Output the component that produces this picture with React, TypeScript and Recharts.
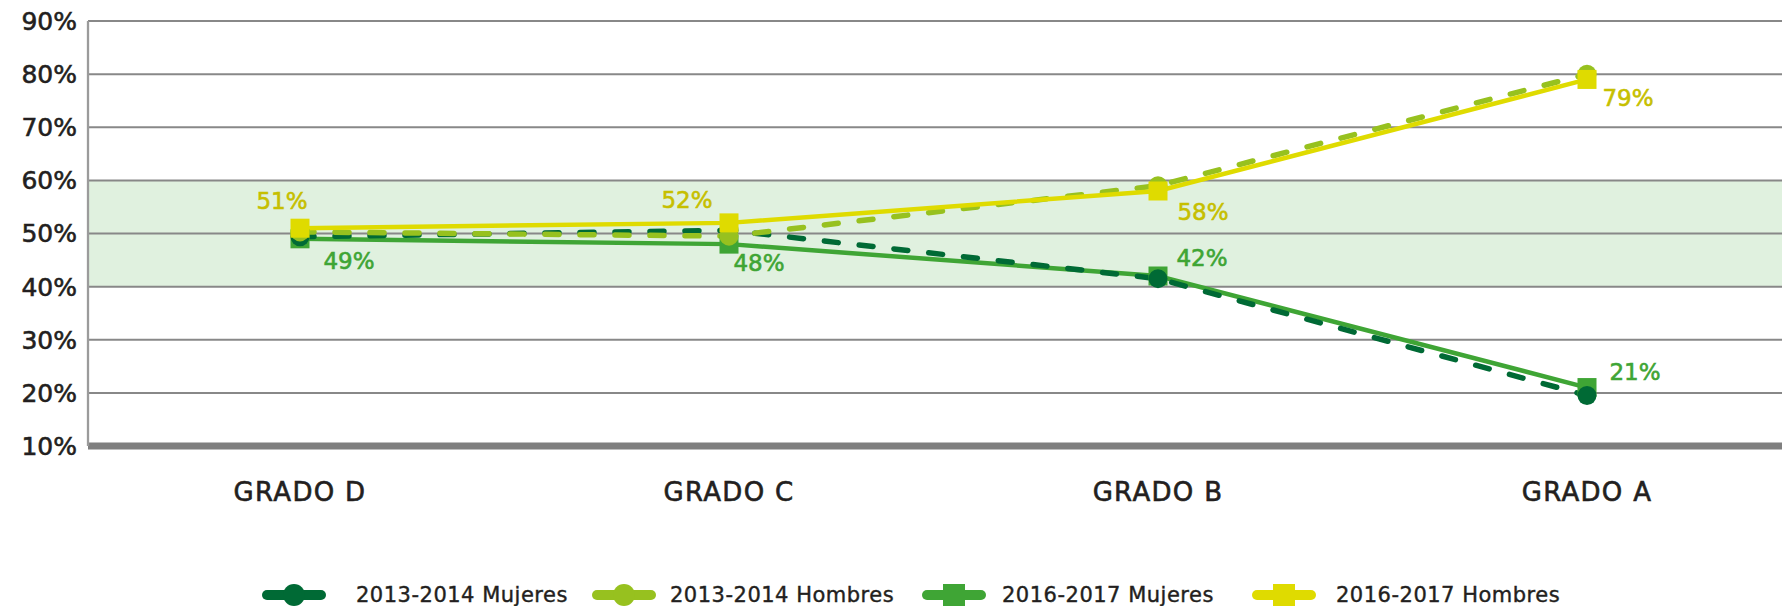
import React from 'react';
import {
  LineChart,
  Line,
  XAxis,
  YAxis,
  CartesianGrid,
  Legend,
  LabelList,
} from 'recharts';

const categories = ['GRADO D', 'GRADO C', 'GRADO B', 'GRADO A'];
const mujeres1314 = [49.4, 50.6, 41.5, 19.5];
const hombres1314 = [50.3, 49.5, 59, 80];
const mujeres1617 = [49, 48, 42, 21];
const hombres1617 = [51, 52, 58, 79];
const yTicks = [10, 20, 30, 40, 50, 60, 70, 80, 90];

// label placement around each point (dx, dy)
const hombresLabelOffsets = [[-18, -27], [-42, -23], [45, 21], [41, 19]];
const mujeresLabelOffsets = [[49, 22], [30, 19], [44, -18], [48, -16]];
// gap between legend icon and its text
const legendTextGaps = [30, 14, 16, 20];

const FONT = '"DejaVu Sans", sans-serif';
const TEXT = '#231f20';

const series = [
  { key: 'm1314', name: '2013-2014 Mujeres', color: '#006a35', shape: 'circle' },
  { key: 'h1314', name: '2013-2014 Hombres', color: '#97c11f', shape: 'circle' },
  { key: 'm1617', name: '2016-2017 Mujeres', color: '#3fa535', shape: 'square' },
  { key: 'h1617', name: '2016-2017 Hombres', color: '#dfdb00', shape: 'square' },
];

const data = categories.map((name, i) => ({
  name,
  m1314: mujeres1314[i],
  h1314: hombres1314[i],
  m1617: mujeres1617[i],
  h1617: hombres1617[i],
}));

const SquareDot = (color: string) => (props: any) => {
  const { cx, cy, index } = props;
  if (cx == null || cy == null) return null;
  return <rect key={`sq-${index}`} x={cx - 9.5} y={cy - 9.5} width={19} height={19} fill={color} />;
};

const CircleDot = (color: string) => (props: any) => {
  const { cx, cy, index } = props;
  if (cx == null || cy == null) return null;
  return <circle key={`ci-${index}`} cx={cx} cy={cy} r={9.5} fill={color} />;
};

const renderLabel = (offsets: number[][], color: string) => (props: any) => {
  const { x, y, index, value } = props;
  const [dx, dy] = offsets[index];
  return (
    <text
      x={x + dx}
      y={y + dy}
      textAnchor="middle"
      dominantBaseline="central"
      fill={color}
      stroke={color}
      strokeWidth={0.6}
      fontSize={23}
      fontFamily={FONT}
    >
      {value}%
    </text>
  );
};

const LegendContent = () => (
  <div style={{ display: 'flex', height: 22, alignItems: 'center', paddingLeft: 262, width: 1782, boxSizing: 'border-box' }}>
    {series.map((s, i) => (
      <div key={s.key} style={{ display: 'flex', alignItems: 'center', width: 330 }}>
        <svg width={64} height={24} style={{ overflow: 'visible' }}>
          <line x1={5} y1={12} x2={59} y2={12} stroke={s.color} strokeWidth={10} strokeLinecap="round" />
          {s.shape === 'circle' ? (
            <circle cx={32} cy={12} r={11} fill={s.color} />
          ) : (
            <rect x={21} y={1} width={22} height={22} fill={s.color} />
          )}
        </svg>
        <span
          style={{
            marginLeft: legendTextGaps[i],
            fontFamily: FONT,
            fontSize: 21,
            letterSpacing: 0.5,
            color: TEXT,
            whiteSpace: 'nowrap',
            WebkitTextStroke: '0.4px #231f20',
          }}
        >
          {s.name}
        </span>
      </div>
    ))}
  </div>
);

export default function App() {
  return (
    <div style={{ position: 'absolute', left: 0, top: 0 }}>
      <LineChart width={1782} height={606} data={data} margin={{ top: 21, right: 0, bottom: 0, left: 0 }}>
        {/* green band 40-60 drawn first so grid lines sit on top */}
        <CartesianGrid
          vertical={false}
          strokeOpacity={0}
          horizontalFill={['none', 'none', 'none', '#e0f1df', '#e0f1df', 'none', 'none', 'none', 'none']}
          fillOpacity={1}
        />
        <CartesianGrid vertical={false} stroke="#888888" strokeWidth={2} />
        <XAxis
          dataKey="name"
          padding={{ left: 212, right: 195 }}
          height={138}
          tickSize={0}
          tickMargin={37}
          tickLine={false}
          axisLine={{ stroke: '#7f7f7f', strokeWidth: 7 }}
          tick={{ fill: TEXT, stroke: TEXT, strokeWidth: 0.6, fontSize: 26, fontFamily: FONT, letterSpacing: 1.3 }}
        />
        <YAxis
          domain={[10, 90]}
          ticks={yTicks}
          width={88}
          tickSize={0}
          tickMargin={11}
          tickLine={false}
          axisLine={{ stroke: '#9b9b9b', strokeWidth: 2.3 }}
          tickFormatter={(v) => `${v}%`}
          tick={{ fill: TEXT, stroke: TEXT, strokeWidth: 0.6, fontSize: 25, fontFamily: FONT }}
          interval={0}
        />
        <Legend verticalAlign="bottom" align="left" content={<LegendContent />} wrapperStyle={{ left: 0, bottom: 0, width: 1782 }} />
        <Line
          dataKey="m1617"
          name="2016-2017 Mujeres"
          stroke="#3fa535"
          strokeWidth={4.5}
          dot={SquareDot('#3fa535')}
          activeDot={false}
          isAnimationActive={false}
        >
          <LabelList dataKey="m1617" content={renderLabel(mujeresLabelOffsets, '#3fa535')} />
        </Line>
        <Line
          dataKey="m1314"
          name="2013-2014 Mujeres"
          stroke="#006a35"
          strokeWidth={5.5}
          strokeDasharray="14 21"
          strokeLinecap="round"
          dot={CircleDot('#006a35')}
          activeDot={false}
          isAnimationActive={false}
        />
        <Line
          dataKey="h1314"
          name="2013-2014 Hombres"
          stroke="#97c11f"
          strokeWidth={5.5}
          strokeDasharray="14 21"
          strokeLinecap="round"
          dot={CircleDot('#97c11f')}
          activeDot={false}
          isAnimationActive={false}
        />
        <Line
          dataKey="h1617"
          name="2016-2017 Hombres"
          stroke="#dfdb00"
          strokeWidth={4.5}
          dot={SquareDot('#dfdb00')}
          activeDot={false}
          isAnimationActive={false}
        >
          <LabelList dataKey="h1617" content={renderLabel(hombresLabelOffsets, '#c6bf00')} />
        </Line>
      </LineChart>
    </div>
  );
}
